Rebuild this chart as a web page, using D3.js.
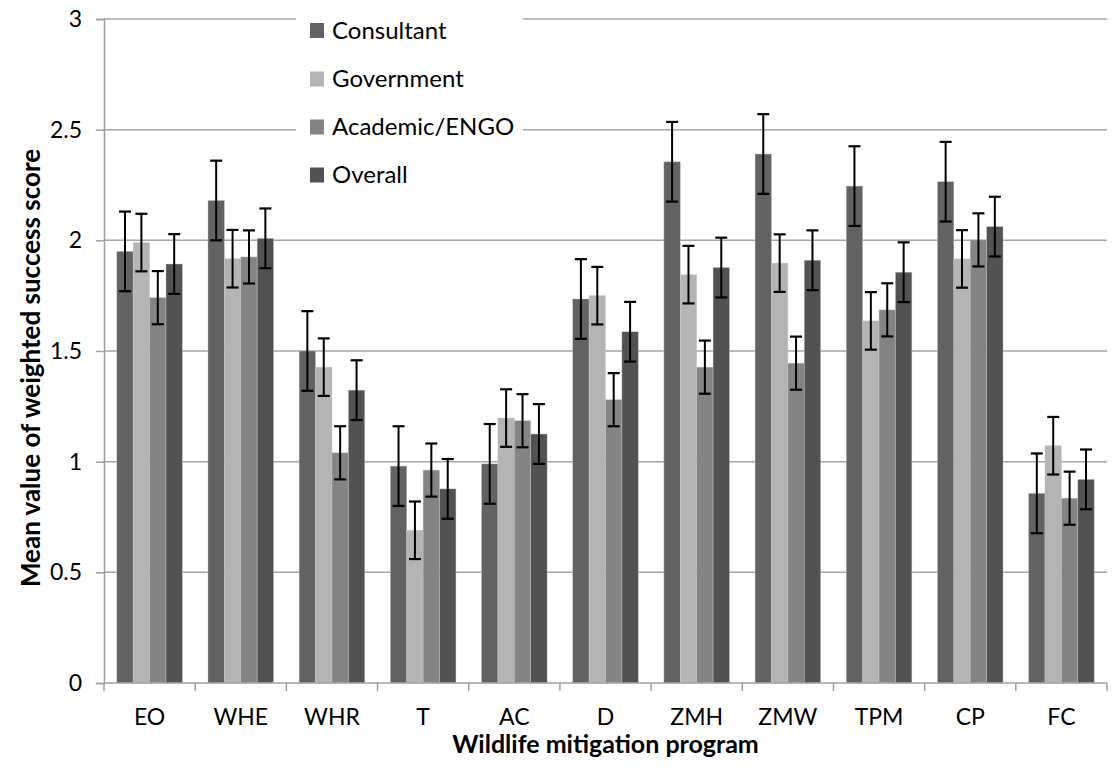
<!DOCTYPE html>
<html><head><meta charset="utf-8">
<script src="https://cdn.jsdelivr.net/npm/d3@7"></script>
<style>
html,body{margin:0;padding:0;background:#fff;}
svg{display:block;}
text{font-family:Lato,"Open Sans",sans-serif;fill:#000;}
</style></head>
<body>
<svg id="chart" width="1112" height="773"></svg>
<script>
const categories = ["EO","WHE","WHR","T","AC","D","ZMH","ZMW","TPM","CP","FC"];
const seriesNames = ["Consultant","Government","Academic/ENGO","Overall"];
const consultant = [1.95,2.18,1.50,0.98,0.99,1.735,2.355,2.39,2.245,2.265,0.857];
const government = [1.99,1.917,1.427,0.69,1.197,1.75,1.845,1.897,1.636,1.916,1.072];
const academic   = [1.741,1.925,1.04,0.962,1.185,1.28,1.427,1.445,1.686,2.002,0.835];
const overall    = [1.893,2.009,1.323,0.877,1.125,1.587,1.877,1.91,1.856,2.062,0.92];
const consultantErr = [0.18,0.18,0.18,0.18,0.18,0.18,0.18,0.18,0.18,0.18,0.18];
const governmentErr = [0.13,0.13,0.13,0.13,0.13,0.13,0.13,0.13,0.13,0.13,0.13];
const academicErr   = [0.12,0.12,0.12,0.12,0.12,0.12,0.12,0.12,0.12,0.12,0.12];
const overallErr    = [0.135,0.135,0.135,0.135,0.135,0.135,0.135,0.135,0.135,0.135,0.135];
const yTicks = [0,0.5,1,1.5,2,2.5,3];
const yTickLabels = ["0","0.5","1","1.5","2","2.5","3"];
const colors = ["#626262","#b4b4b4","#848484","#525252"];

const values = [consultant, government, academic, overall];
const errors = [consultantErr, governmentErr, academicErr, overallErr];

const svg = d3.select("#chart");
const mLeft = 104, mRight = 1107, mTop = 19, mBottom = 683;

const x0 = d3.scaleBand().domain(categories).range([mLeft, mRight]).paddingInner(0).paddingOuter(0);
const x1 = d3.scaleBand().domain(seriesNames).range([0, x0.bandwidth()]).paddingOuter(0.78).paddingInner(0);
const y = d3.scaleLinear().domain([0,3]).range([mBottom, mTop]);

// gridlines
svg.append("g").selectAll("line").data(yTicks.filter(d=>d>0)).join("line")
  .attr("x1", mLeft).attr("x2", mRight)
  .attr("y1", d=>y(d)).attr("y2", d=>y(d))
  .attr("stroke", "#a6a6a6").attr("stroke-width", 1.5);

// y axis
const yAxis = d3.axisLeft(y).tickValues(yTicks).tickFormat((d,i)=>yTickLabels[i]).tickSize(8).tickPadding(14);
const gy = svg.append("g").attr("transform", `translate(${mLeft},0)`).call(yAxis);
gy.select(".domain").attr("stroke","#a0a0a0").attr("stroke-width",1.5);
gy.selectAll(".tick line").attr("stroke","#a0a0a0").attr("stroke-width",1.5);
gy.selectAll(".tick text").style("font-size","23px").style("font-family","Lato");

// bars
const groups = svg.append("g").selectAll("g").data(categories).join("g")
  .attr("transform", c=>`translate(${x0(c)},0)`);
seriesNames.forEach((s, si) => {
  groups.append("rect")
    .attr("x", x1(s))
    .attr("width", x1.bandwidth())
    .attr("y", (c,ci)=>y(values[si][ci]))
    .attr("height", (c,ci)=>y(0)-y(values[si][ci]))
    .attr("fill", colors[si])
    .attr("stroke", "#c8c8c8").attr("stroke-width", 0.6).attr("stroke-opacity",0.7);
});

// x axis
const xAxis = d3.axisBottom(x0).tickSize(0).tickPadding(26);
const gx = svg.append("g").attr("transform", `translate(0,${mBottom})`).call(xAxis);
gx.select(".domain").remove();
gx.selectAll(".tick text").style("font-size","23px").style("font-family","Lato");
svg.append("line").attr("x1",mLeft).attr("x2",mRight).attr("y1",mBottom).attr("y2",mBottom)
  .attr("stroke","#a0a0a0").attr("stroke-width",1.5);
svg.append("g").selectAll("line").data(d3.range(categories.length+1)).join("line")
  .attr("x1", i=>mLeft + i*x0.bandwidth()).attr("x2", i=>mLeft + i*x0.bandwidth())
  .attr("y1", mBottom).attr("y2", mBottom+8)
  .attr("stroke","#a0a0a0").attr("stroke-width",1.5);

// error bars
const cap = 6;
seriesNames.forEach((s, si) => {
  const eg = groups.append("g");
  const cx = x1(s) + x1.bandwidth()/2;
  eg.append("line").attr("x1",cx).attr("x2",cx)
    .attr("y1",(c,ci)=>y(values[si][ci]+errors[si][ci]))
    .attr("y2",(c,ci)=>y(values[si][ci]-errors[si][ci]))
    .attr("stroke","#000").attr("stroke-width",2);
  eg.append("line").attr("x1",cx-cap).attr("x2",cx+cap)
    .attr("y1",(c,ci)=>y(values[si][ci]+errors[si][ci]))
    .attr("y2",(c,ci)=>y(values[si][ci]+errors[si][ci]))
    .attr("stroke","#000").attr("stroke-width",2.2);
  eg.append("line").attr("x1",cx-cap).attr("x2",cx+cap)
    .attr("y1",(c,ci)=>y(values[si][ci]-errors[si][ci]))
    .attr("y2",(c,ci)=>y(values[si][ci]-errors[si][ci]))
    .attr("stroke","#000").attr("stroke-width",2.2);
});

// legend
const lg = svg.append("g");
lg.append("rect").attr("x",296).attr("y",5).attr("width",227).attr("height",190).attr("fill","#fff");
const legY = [30.5, 79, 127, 175];
seriesNames.forEach((s, si) => {
  lg.append("rect").attr("x",310).attr("y",legY[si]-7.5).attr("width",14).attr("height",15).attr("fill",colors[si]);
  lg.append("text").attr("x",332).attr("y",legY[si]).attr("dy","0.35em")
    .style("font-size","24px").text(s);
});

// axis titles
svg.append("text").attr("x", (mLeft+mRight)/2).attr("y", 753).attr("text-anchor","middle")
  .style("font-size","25px").style("font-weight","bold").text("Wildlife mitigation program");
svg.append("text").attr("transform","translate(40,368) rotate(-90)").attr("text-anchor","middle")
  .style("font-size","26px").style("font-weight","bold").text("Mean value of weighted success score");
</script>
</body></html>
